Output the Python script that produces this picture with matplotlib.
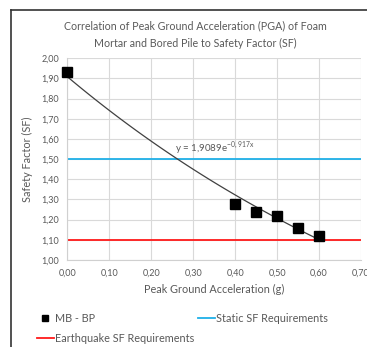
import matplotlib
matplotlib.use("Agg")
import matplotlib.pyplot as plt
from matplotlib.lines import Line2D
import numpy as np

plt.rcParams['font.family'] = ['Lato', 'DejaVu Sans']

# data
pga = [0.00, 0.40, 0.45, 0.50, 0.55, 0.60]
sf = [1.93, 1.28, 1.24, 1.22, 1.16, 1.12]
static_sf = 1.5
quake_sf = 1.1
fit_a, fit_b = 1.9089, -0.917
x_ticks = [0.0, 0.1, 0.2, 0.3, 0.4, 0.5, 0.6, 0.7]
y_ticks = [1.0, 1.1, 1.2, 1.3, 1.4, 1.5, 1.6, 1.7, 1.8, 1.9, 2.0]

GREY = '#595959'

fig = plt.figure(figsize=(3.67, 3.47), dpi=100)
ax = fig.add_axes([0.1834, 0.2507, 0.8003, 0.5813])

ax.axhline(static_sf, color='#1fb0e8', lw=1.3, zorder=2)
ax.axhline(quake_sf, color='#ff1a1a', lw=1.3, zorder=2)

xs = np.linspace(min(pga), max(pga), 100)
ax.plot(xs, fit_a * np.exp(fit_b * xs), color='#404040', lw=0.9, zorder=3)
ax.plot(pga, sf, 's', color='black', ms=6.5, zorder=4, clip_on=False)

ax.text(0.256, 1.552, r"y = 1,9089e$^{\mathregular{-0,917x}}$", fontsize=7, color=GREY,
        va='center', ha='left')

ax.set_xlim(0, 0.7)
ax.set_ylim(1.0, 2.0)
ax.set_xticks(x_ticks)
ax.set_yticks(y_ticks)
ax.set_xticklabels([f"{v:.2f}".replace('.', ',') for v in x_ticks])
ax.set_yticklabels([f"{v:.2f}".replace('.', ',') for v in y_ticks])
ax.tick_params(length=0, labelsize=6.5, labelcolor=GREY, pad=6)
ax.grid(color='#d9d9d9', lw=0.8)
ax.set_axisbelow(True)
for s in ['top', 'right']:
    ax.spines[s].set_visible(False)
for s in ['left', 'bottom']:
    ax.spines[s].set_color('#d0d0d0')

ax.set_xlabel("Peak Ground Acceleration (g)", fontsize=7.8, color=GREY, labelpad=5)
ax.set_ylabel("Safety Factor (SF)", fontsize=7.8, color=GREY, labelpad=6)

fig.text(0.532, 0.900, "Correlation of Peak Ground Acceleration (PGA) of Foam\n"
         "Mortar and Bored Pile to Safety Factor (SF)", ha='center', va='center',
         fontsize=7.7, color=GREY, linespacing=1.75)

# legend fills column-wise, so order handles to get the reference layout
handles = [
    Line2D([], [], ls='none', marker='s', color='black', ms=5),
    Line2D([], [], color='#ff1a1a', lw=1.3),
    Line2D([], [], color='#1fb0e8', lw=1.3),
]
labels = ["MB - BP", "Earthquake SF Requirements", "Static SF Requirements"]
leg = fig.legend(handles, labels, loc='upper left', bbox_to_anchor=(0.10, 0.099),
                 ncol=2, frameon=False, fontsize=7.8, handlelength=1.6,
                 handletextpad=0.1, columnspacing=0.3, labelspacing=0.85,
                 borderpad=0, borderaxespad=0)
for t in leg.get_texts():
    t.set_color(GREY)

# outer chart border, only left and top edges visible
fig.add_artist(Line2D([0.031, 0.031], [0.0, 0.971], color='#333333', lw=1.2))
fig.add_artist(Line2D([0.031, 1.0], [0.971, 0.971], color='#333333', lw=1.2))

fig.savefig("out.png", dpi=100)
